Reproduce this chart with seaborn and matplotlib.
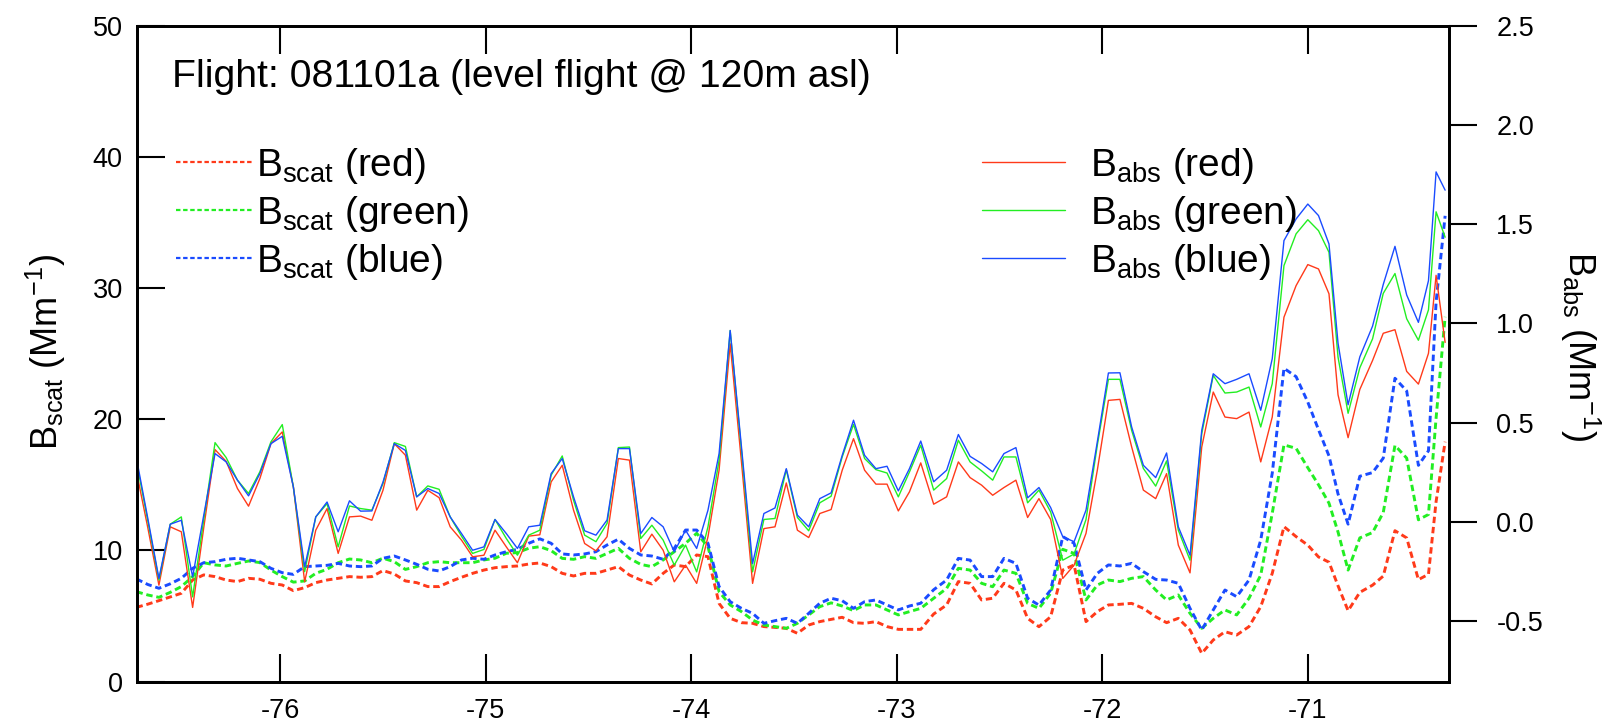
import numpy as np
import pandas as pd
import matplotlib
matplotlib.use("Agg")
import matplotlib.pyplot as plt
import seaborn as sns
from matplotlib.lines import Line2D

# ---------------- data ----------------
lon = [-76.698, -76.643, -76.589, -76.534, -76.480, -76.425, -76.371, -76.316, -76.262, -76.207,
       -76.153, -76.098, -76.044, -75.989, -75.935, -75.880, -75.826, -75.771, -75.717, -75.662,
       -75.608, -75.553, -75.499, -75.444, -75.390, -75.335, -75.281, -75.226, -75.172, -75.117,
       -75.063, -75.008, -74.954, -74.899, -74.845, -74.790, -74.736, -74.681, -74.627, -74.572,
       -74.518, -74.463, -74.409, -74.354, -74.300, -74.245, -74.191, -74.136, -74.082, -74.027,
       -73.973, -73.918, -73.864, -73.810, -73.755, -73.701, -73.646, -73.592, -73.537, -73.483,
       -73.428, -73.374, -73.319, -73.265, -73.210, -73.156, -73.101, -73.047, -72.992, -72.938,
       -72.883, -72.820, -72.757, -72.700, -72.643, -72.587, -72.533, -72.478, -72.420, -72.363,
       -72.308, -72.251, -72.192, -72.137, -72.079, -72.024, -71.970, -71.914, -71.857, -71.800,
       -71.740, -71.687, -71.630, -71.573, -71.516, -71.460, -71.403, -71.346, -71.286, -71.229,
       -71.173, -71.116, -71.057, -71.000, -70.948, -70.897, -70.853, -70.804, -70.747, -70.685,
       -70.633, -70.576, -70.519, -70.462, -70.413, -70.376, -70.332]

abs_blue = [0.319, 0.017, -0.285, -0.012, 0.008, -0.277, 0.033, 0.344, 0.302, 0.21,
            0.131, 0.243, 0.394, 0.431, 0.176, -0.226, 0.025, 0.10, -0.05, 0.106,
            0.054, 0.055, 0.20, 0.394, 0.36, 0.126, 0.168, 0.143, 0.025, -0.059,
            -0.143, -0.126, 0.012, -0.059, -0.134, -0.025, -0.017, 0.243, 0.319, 0.126,
            -0.045, -0.067, 0.009, 0.369, 0.369, -0.059, 0.022, -0.025, -0.151, -0.042,
            -0.134, 0.059, 0.344, 0.964, 0.377, -0.21, 0.042, 0.07, 0.268, 0.034,
            -0.025, 0.117, 0.146, 0.335, 0.512, 0.335, 0.268, 0.28, 0.156, 0.268,
            0.407, 0.202, 0.26, 0.44, 0.33, 0.294, 0.252, 0.344, 0.374, 0.121,
            0.173, 0.072, -0.075, -0.10, 0.059, 0.403, 0.75, 0.751, 0.478, 0.285,
            0.223, 0.347, -0.025, -0.168, 0.461, 0.746, 0.696, 0.718, 0.746, 0.562,
            0.822, 1.417, 1.526, 1.601, 1.543, 1.40, 0.90, 0.59, 0.831, 0.986,
            1.196, 1.388, 1.143, 1.005, 1.215, 1.763, 1.671]

abs_green = [0.302, 0.005, -0.293, -0.012, 0.025, -0.378, 0.01, 0.399, 0.324, 0.21,
             0.143, 0.252, 0.403, 0.49, 0.176, -0.251, 0.025, 0.092, -0.126, 0.08,
             0.067, 0.059, 0.193, 0.399, 0.38, 0.126, 0.181, 0.164, 0.025, -0.072,
             -0.159, -0.139, 0.012, -0.084, -0.168, -0.067, -0.042, 0.235, 0.332, 0.109,
             -0.067, -0.10, -0.008, 0.374, 0.377, -0.084, -0.017, -0.092, -0.218, -0.117,
             -0.252, -0.025, 0.31, 0.964, 0.36, -0.252, 0.012, 0.017, 0.263, 0.022,
             -0.045, 0.096, 0.129, 0.327, 0.491, 0.319, 0.263, 0.246, 0.126, 0.251,
             0.386, 0.16, 0.218, 0.411, 0.302, 0.257, 0.21, 0.327, 0.327, 0.096,
             0.16, 0.05, -0.193, -0.162, 0.012, 0.386, 0.718, 0.718, 0.461, 0.269,
             0.18, 0.307, -0.042, -0.193, 0.444, 0.738, 0.649, 0.654, 0.679, 0.478,
             0.696, 1.291, 1.451, 1.522, 1.467, 1.358, 0.83, 0.547, 0.776, 0.922,
             1.151, 1.251, 1.023, 0.915, 1.068, 1.562, 1.434]

abs_red = [0.252, -0.03, -0.319, -0.025, -0.05, -0.431, -0.03, 0.364, 0.305, 0.168,
           0.079, 0.218, 0.394, 0.453, 0.176, -0.302, -0.042, 0.067, -0.159, 0.025,
           0.029, 0.008, 0.159, 0.394, 0.336, 0.059, 0.159, 0.122, -0.025, -0.092,
           -0.176, -0.168, -0.042, -0.126, -0.206, -0.072, -0.065, 0.201, 0.285, 0.059,
           -0.109, -0.146, -0.075, 0.319, 0.311, -0.151, -0.062, -0.143, -0.302, -0.218,
           -0.31, -0.075, 0.26, 0.897, 0.30, -0.31, -0.034, -0.025, 0.196, -0.042,
           -0.079, 0.042, 0.062, 0.26, 0.419, 0.26, 0.19, 0.19, 0.055, 0.151,
           0.297, 0.089, 0.126, 0.302, 0.223, 0.185, 0.134, 0.173, 0.21, 0.022,
           0.117, 0.012, -0.285, -0.218, -0.058, 0.26, 0.612, 0.617, 0.378, 0.16,
           0.117, 0.243, -0.117, -0.257, 0.377, 0.654, 0.528, 0.52, 0.553, 0.302,
           0.528, 1.031, 1.19, 1.296, 1.274, 1.149, 0.64, 0.424, 0.667, 0.813,
           0.95, 0.968, 0.758, 0.694, 0.849, 1.242, 0.904]

scat_blue = [7.82, 7.4, 7.11, 7.45, 7.87, 8.63, 9.06, 9.14, 9.32, 9.40,
             9.27, 9.14, 8.63, 8.30, 8.17, 8.76, 8.81, 8.86, 9.01, 8.81,
             8.76, 8.81, 9.40, 9.57, 9.27, 8.94, 8.56, 8.43, 8.76, 9.27,
             9.40, 9.32, 9.65, 9.90, 10.08, 10.54, 10.88, 10.54, 9.73, 9.65,
             9.73, 9.90, 10.41, 10.85, 10.15, 9.65, 9.57, 9.32, 10.15, 11.55,
             11.55, 10.54, 7.24, 6.09, 5.58, 5.20, 4.44, 4.64, 4.82, 4.44,
             5.20, 5.97, 6.35, 6.16, 5.58, 6.09, 6.22, 5.84, 5.46, 5.76,
             5.97, 7.0, 7.74, 9.39, 9.26, 8.0, 8.0, 9.39, 9.01, 6.35,
             5.83, 6.98, 11.05, 10.54, 6.98, 8.25, 8.89, 8.81, 9.01, 8.38,
             7.79, 7.74, 7.49, 5.58, 3.93, 5.46, 6.98, 6.47, 7.74, 10.79,
             15.88, 23.88, 23.24, 21.3, 19.2, 17.2, 14.3, 12.0, 15.65, 15.93,
             17.03, 23.12, 22.15, 16.48, 17.59, 28.93, 35.5]

scat_green = [6.85, 6.6, 6.42, 6.8, 7.24, 8.0, 9.06, 8.89, 8.81, 9.01,
              9.19, 9.07, 8.50, 8.0, 7.58, 7.67, 8.25, 8.56, 9.06, 9.34,
              9.27, 9.06, 9.40, 9.14, 8.55, 8.76, 9.06, 9.14, 9.06, 9.06,
              9.06, 9.27, 9.40, 9.78, 9.83, 10.16, 10.28, 9.98, 9.39, 9.32,
              9.52, 9.39, 9.77, 10.15, 9.39, 8.93, 8.76, 9.27, 9.90, 10.54,
              11.30, 10.28, 6.85, 5.84, 5.33, 4.69, 4.31, 4.19, 4.06, 4.44,
              5.08, 5.71, 6.0, 5.76, 5.41, 5.84, 5.84, 5.46, 5.08, 5.33,
              5.58, 6.35, 7.10, 8.63, 8.50, 7.49, 7.23, 8.50, 8.25, 5.96,
              5.58, 6.73, 10.08, 9.77, 6.22, 7.36, 7.74, 7.62, 7.87, 8.0,
              6.98, 6.22, 6.60, 5.20, 4.06, 4.82, 5.46, 5.08, 6.35, 8.12,
              12.83, 18.04, 17.78, 16.3, 15.0, 13.6, 11.4, 8.5, 10.95, 11.36,
              12.88, 18.0, 17.03, 12.33, 12.74, 20.08, 27.8]

scat_red = [5.66, 5.9, 6.17, 6.45, 6.73, 7.74, 8.13, 8.0, 7.74, 7.62,
            7.87, 7.80, 7.49, 7.36, 6.93, 7.16, 7.54, 7.74, 7.87, 8.0,
            7.95, 8.0, 8.46, 8.20, 7.67, 7.54, 7.24, 7.24, 7.62, 7.95,
            8.25, 8.50, 8.68, 8.76, 8.81, 8.96, 9.04, 8.76, 8.25, 8.05,
            8.25, 8.25, 8.50, 8.76, 8.12, 7.74, 7.44, 8.25, 8.89, 8.76,
            9.65, 9.52, 5.96, 4.82, 4.49, 4.44, 4.19, 4.13, 4.06, 3.68,
            4.31, 4.57, 4.74, 4.90, 4.49, 4.44, 4.57, 4.19, 3.98, 3.98,
            3.98, 5.15, 5.84, 7.62, 7.49, 6.22, 6.35, 7.49, 6.98, 4.82,
            4.18, 4.94, 8.50, 8.89, 4.57, 5.33, 5.84, 5.89, 5.96, 5.58,
            4.94, 4.49, 4.82, 3.93, 2.15, 3.17, 3.80, 3.55, 4.19, 5.71,
            8.25, 11.81, 11.05, 10.4, 9.5, 9.1, 7.3, 5.4, 6.8, 7.35,
            8.04, 11.5, 10.95, 7.77, 8.18, 13.71, 18.28]

left_ticks = [0, 10, 20, 30, 40, 50]
right_ticks = [-0.5, 0.0, 0.5, 1.0, 1.5, 2.0, 2.5]
x_ticks = [-76, -75, -74, -73, -72, -71]

title_text = "Flight: 081101a (level flight @ 120m asl)"
scat_labels = [r"$\mathrm{B_{scat}}$ (red)", r"$\mathrm{B_{scat}}$ (green)", r"$\mathrm{B_{scat}}$ (blue)"]
abs_labels = [r"$\mathrm{B_{abs}}$ (red)", r"$\mathrm{B_{abs}}$ (green)", r"$\mathrm{B_{abs}}$ (blue)"]

# ---------------- style ----------------
sns.set_style("ticks")
plt.rcParams["font.family"] = ["Liberation Sans", "DejaVu Sans"]
plt.rcParams["mathtext.fontset"] = "custom"
plt.rcParams["mathtext.rm"] = "Liberation Sans"
plt.rcParams["mathtext.it"] = "Liberation Sans:italic"
plt.rcParams["mathtext.bf"] = "Liberation Sans:bold"
plt.rcParams["text.color"] = "black"
plt.rcParams["axes.labelcolor"] = "black"
plt.rcParams["xtick.color"] = "black"
plt.rcParams["ytick.color"] = "black"

RED, GREEN, BLUE = "#FF3A1A", "#22EE22", "#1A4BFF"
DASH = (0, (2.2, 1.3))

df = pd.DataFrame({"lon": lon,
                   "scat_red": scat_red, "scat_green": scat_green, "scat_blue": scat_blue,
                   "abs_red": abs_red, "abs_green": abs_green, "abs_blue": abs_blue})

fig = plt.figure(figsize=(16.07, 7.23), dpi=100)
ax = fig.add_axes([0.0850, 0.0573, 0.8167, 0.9073])
ax2 = ax.twinx()

for col, c in [("scat_red", RED), ("scat_green", GREEN), ("scat_blue", BLUE)]:
    sns.lineplot(data=df, x="lon", y=col, ax=ax, color=c, linewidth=2.1,
                 linestyle=DASH, estimator=None, sort=False)
for col, c in [("abs_red", RED), ("abs_green", GREEN), ("abs_blue", BLUE)]:
    sns.lineplot(data=df, x="lon", y=col, ax=ax2, color=c, linewidth=1.0,
                 estimator=None, sort=False)

ax.set_xlim(-76.6976, -70.313)
ax.set_ylim(0, 50)
ax2.set_ylim(-0.8046, 2.5)
ax.set_xlabel("")
ax.set_ylabel("")
ax2.set_ylabel("")

ax.set_xticks(x_ticks)
ax.set_xticklabels([str(v) for v in x_ticks])
ax.set_yticks(left_ticks)
ax.set_yticklabels([str(v) for v in left_ticks])
ax2.set_yticks(right_ticks)
ax2.set_yticklabels([f"{v:.1f}" for v in right_ticks])

ax.tick_params(axis="x", direction="in", length=20, width=1.5, top=True, bottom=True,
               labelsize=19.5, pad=12, colors="black")
ax.tick_params(axis="y", direction="in", length=20, width=1.5, left=True, right=False,
               labelsize=19.5, pad=10, colors="black")
ax2.tick_params(axis="y", direction="out", length=20, width=1.5, right=True,
                labelsize=19.5, pad=14, colors="black")

for a in (ax, ax2):
    for s in a.spines.values():
        s.set_color("black")
        s.set_linewidth(2.0)

ax.text(0.027, 0.906, title_text, transform=ax.transAxes, fontsize=28.2, ha="left",
        va="baseline", color="black")

fig.text(46 / 1607, 1 - 352 / 723, r"$\mathrm{B_{scat}}$ (Mm$^{-1}$)", rotation=90,
         ha="center", va="center", fontsize=26, color="black")
fig.text(1580 / 1607, 1 - 346 / 723, r"$\mathrm{B_{abs}}$ (Mm$^{-1}$)", rotation=270,
         ha="center", va="center", fontsize=26, color="black")

h1 = [Line2D([], [], color=c, lw=1.6, linestyle=(0, (2.0, 1.2))) for c in (RED, GREEN, BLUE)]
h2 = [Line2D([], [], color=c, lw=1.0) for c in (RED, GREEN, BLUE)]
leg1 = ax2.legend(h1, scat_labels, loc="upper left", bbox_to_anchor=(176 / 1607, 1 - 146 / 723),
                  bbox_transform=fig.transFigure, frameon=False, fontsize=28,
                  handlelength=1.95, handletextpad=0.12, labelspacing=0.2,
                  borderpad=0, borderaxespad=0, labelcolor="black")
ax2.add_artist(leg1)
ax2.legend(h2, abs_labels, loc="upper left", bbox_to_anchor=(982 / 1607, 1 - 146 / 723),
           bbox_transform=fig.transFigure, frameon=False, fontsize=28,
           handlelength=2.14, handletextpad=0.65, labelspacing=0.2,
           borderpad=0, borderaxespad=0, labelcolor="black")

fig.savefig("out.png", dpi=100)
